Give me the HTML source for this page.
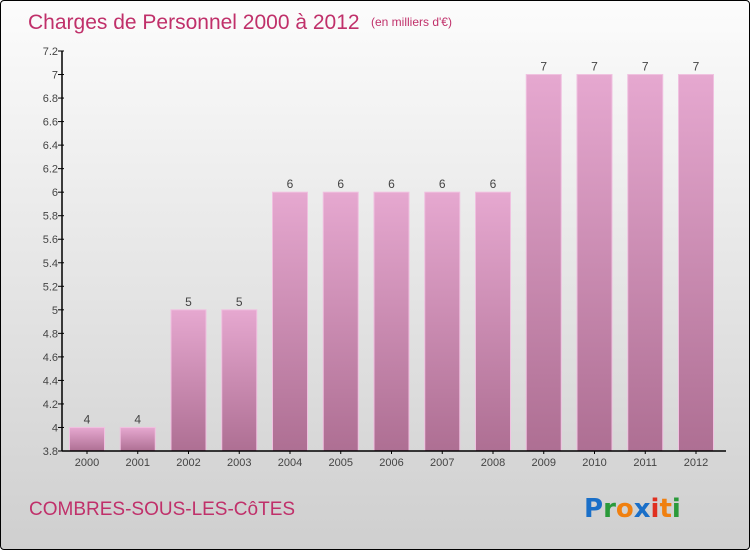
<!DOCTYPE html>
<html><head><meta charset="utf-8"><style>
body{margin:0;width:750px;height:550px;overflow:hidden;font-family:"Liberation Sans",sans-serif}
#wrap{position:absolute;left:0;top:0;width:748px;height:548px;border:1px solid #000;border-radius:4px;background:linear-gradient(#fcfcfc,#cfcfcf)}
</style></head><body>
<div id="wrap">
<svg width="750" height="550">
<defs>
<linearGradient id="bg" x1="0" y1="0" x2="0" y2="1"><stop offset="0" stop-color="#e6a8d0"/><stop offset="1" stop-color="#ae6f93"/></linearGradient>
</defs>
<text x="27" y="28" font-size="21" fill="#c0306a">Charges de Personnel 2000 à 2012</text>
<text x="370" y="25" font-size="12" fill="#c0306a">(en milliers d'€)</text>
<g id="plot"></g>
<text x="28" y="514" font-size="19" fill="#c0306a">COMBRES-SOUS-LES-CôTES</text>
<g font-size="26" font-weight="bold" font-family="'DejaVu Sans',sans-serif">
<text x="583" y="516"><tspan fill="#1a6fc8">P</tspan><tspan fill="#2a9a3a">r</tspan><tspan fill="#f08010">o</tspan><tspan fill="#1a6fc8">x</tspan><tspan fill="#e03020">i</tspan><tspan fill="#f08010">t</tspan><tspan fill="#2a9a3a">i</tspan></text>
</g>
</svg></div>
<script>
const categories=["2000","2001","2002","2003","2004","2005","2006","2007","2008","2009","2010","2011","2012"];
const values=[4,4,5,5,6,6,6,6,6,7,7,7,7];
const valueLabels=["4","4","5","5","6","6","6","6","6","7","7","7","7"];
const yTicks=[3.8,4,4.2,4.4,4.6,4.8,5,5.2,5.4,5.6,5.8,6,6.2,6.4,6.6,6.8,7,7.2];
const yMin=3.8,yMax=7.2,plotTop=50,bot=450,x0=61,step=50.75,bw=35;
const y=v=>bot-(v-yMin)/(yMax-yMin)*(bot-plotTop);
const cx=i=>86+i*step;
const g=document.getElementById('plot');const ns="http://www.w3.org/2000/svg";
function mk(t,a,p){const e=document.createElementNS(ns,t);for(const k in a)e.setAttribute(k,a[k]);(p||g).appendChild(e);return e;}
values.forEach((v,i)=>{
 const r=mk('rect',{x:cx(i)-bw/2,y:y(v),width:bw,height:bot-y(v),fill:'url(#bg)',stroke:'#f0c0e0','stroke-width':1});
 
 
 const t=mk('text',{x:cx(i),y:y(v)-4,'text-anchor':'middle','font-size':12,fill:'#444'});t.textContent=valueLabels[i];
 
 
 const xl=mk('text',{x:cx(i),y:bot+15,'text-anchor':'middle','font-size':11,fill:'#444'});xl.textContent=categories[i];
 
 
 mk('line',{x1:cx(i),x2:cx(i),y1:bot,y2:bot+3,stroke:'#000'});
});
yTicks.forEach(v=>{
 mk('line',{x1:x0-4,x2:x0+2,y1:y(v),y2:y(v),stroke:'#000'});
 const t=mk('text',{x:x0-4,y:y(v)+4,'text-anchor':'end','font-size':11,fill:'#444'});t.textContent=String(v);
 
 
});
const ya=mk('line',{x1:x0,x2:x0,y1:plotTop,y2:bot,stroke:'#000','stroke-width':1.5});


const xa=mk('line',{x1:x0,x2:725,y1:bot,y2:bot,stroke:'#000','stroke-width':1.5});


</script>
</body></html>
